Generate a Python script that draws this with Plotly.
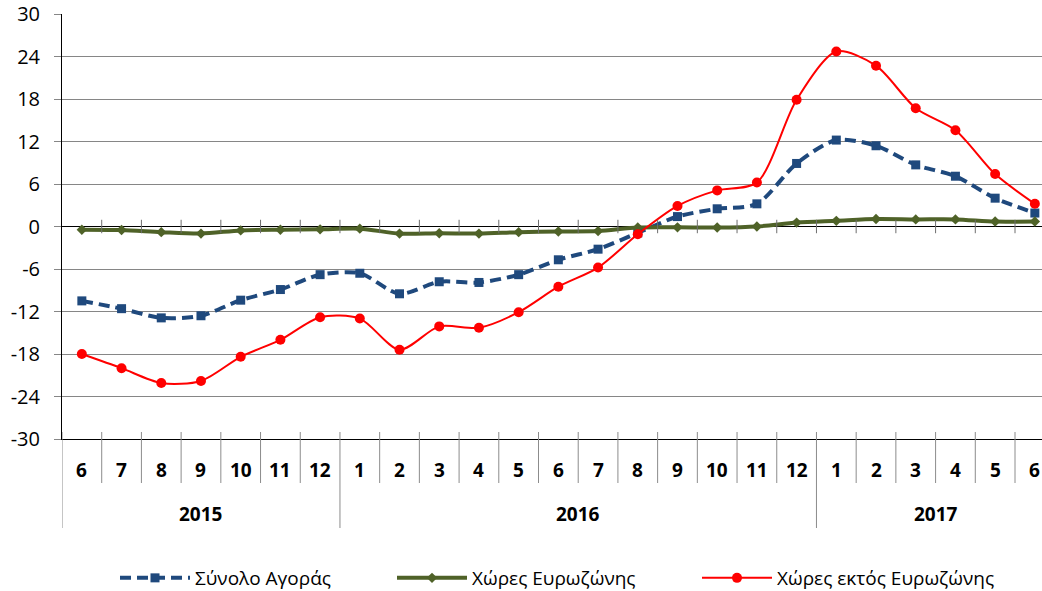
import plotly.graph_objects as go

months = ["6", "7", "8", "9", "10", "11", "12",
          "1", "2", "3", "4", "5", "6", "7", "8", "9", "10", "11", "12",
          "1", "2", "3", "4", "5", "6"]
years = ["2015", "2016", "2017"]
year_spans = [(0, 6), (7, 18), (19, 24)]
y_ticks = [-30, -24, -18, -12, -6, 0, 6, 12, 18, 24, 30]

total_market = [-10.5, -11.6, -12.9, -12.6, -10.4, -8.9, -6.8,
                -6.6, -9.5, -7.8, -7.9, -6.8, -4.7, -3.2, -0.9, 1.4,
                2.5, 3.2, 8.9, 12.2, 11.4, 8.7, 7.1, 4.0, 1.9]
eurozone = [-0.45, -0.5, -0.8, -1.0, -0.55, -0.45, -0.4,
            -0.3, -1.0, -0.95, -1.0, -0.8, -0.7, -0.65, -0.15, -0.12,
            -0.15, 0.0, 0.55, 0.8, 1.05, 1.0, 1.0, 0.7, 0.7]
non_eurozone = [-18.0, -20.0, -22.1, -21.8, -18.4, -16.0, -12.8,
                -13.0, -17.4, -14.1, -14.3, -12.1, -8.5, -5.8, -1.1, 2.9,
                5.1, 6.2, 17.9, 24.7, 22.7, 16.7, 13.6, 7.4, 3.2]

names = ["Σύνολο Αγοράς", "Χώρες Ευρωζώνης", "Χώρες εκτός Ευρωζώνης"]

FONT = "Open Sans, DejaVu Sans, sans-serif"
x = list(range(len(months)))

fig = go.Figure()
fig.add_trace(go.Scatter(
    x=x, y=total_market, name=names[0], mode="lines+markers", legend="legend",
    line=dict(color="#1F497D", width=4, dash="11px,6px", shape="spline", smoothing=0.8),
    marker=dict(symbol="square", size=9, color="#1F497D")))
fig.add_trace(go.Scatter(
    x=x, y=eurozone, name=names[1], mode="lines+markers", legend="legend2",
    line=dict(color="#4F6228", width=4, shape="spline", smoothing=0.8),
    marker=dict(symbol="diamond", size=8, color="#4F6228")))
fig.add_trace(go.Scatter(
    x=x, y=non_eurozone, name=names[2], mode="lines+markers", legend="legend3",
    line=dict(color="#FF0000", width=2, shape="spline", smoothing=0.8),
    marker=dict(symbol="circle", size=10, color="#FF0000")))

W, H = 1042, 591
plot_w = W - 62
plot_h = H - 14 - 152  # plot area height in px


def py(px_below_axis):
    return -px_below_axis / plot_h


def cx(x_pixel):
    return x_pixel / W


def cy(y_pixel):
    return 1 - y_pixel / H


shapes = []
year_bounds = {-0.5, 6.5, 18.5}
for i in range(len(months)):
    b = i - 0.5
    if b in year_bounds:
        y1 = py(89)
    else:
        y1 = py(44)
    shapes.append(dict(type="line", xref="x", yref="paper", x0=b, x1=b,
                       y0=7 / plot_h, y1=y1, line=dict(color="#8C8C8C", width=1)))
    if i > 0:
        shapes.append(dict(type="line", xref="x", yref="y", x0=b, x1=b,
                           y0=-0.95, y1=0.95, line=dict(color="#6E6E6E", width=1)))

annotations = []
for i, m in enumerate(months):
    annotations.append(dict(x=i, y=py(31), xref="x", yref="paper", text="<b>%s</b>" % m,
                            showarrow=False, xanchor="center", yanchor="middle",
                            font=dict(family=FONT, size=19, color="black")))
for yr, (a, b) in zip(years, year_spans):
    annotations.append(dict(x=(a + b) / 2, y=py(75), xref="x", yref="paper",
                            text="<b>%s</b>" % yr, showarrow=False, xanchor="center",
                            yanchor="middle", font=dict(family=FONT, size=19, color="black")))

leg_common = dict(orientation="h", xanchor="left", yanchor="middle",
                  xref="container", yref="container", y=cy(578),
                  font=dict(family=FONT, size=19, color="black"), itemwidth=70,
                  bgcolor="rgba(0,0,0,0)")

fig.update_layout(
    width=W, height=H,
    margin=dict(l=62, r=0, t=14, b=152),
    showlegend=True,
    paper_bgcolor="white", plot_bgcolor="white",
    font=dict(family=FONT, size=19, color="black"),
    xaxis=dict(range=[-0.5, 24.18], showgrid=False, zeroline=False, automargin=False,
               showticklabels=False, showline=True, linecolor="black", linewidth=1,
               ticks=""),
    yaxis=dict(range=[-30, 30], tickvals=y_ticks, ticktext=[str(v) for v in y_ticks],
               showgrid=True, automargin=False, ticklabelstandoff=10,
               gridcolor="#868686", gridwidth=1, zeroline=True, zerolinecolor="black",
               zerolinewidth=1, showline=True, linecolor="black", linewidth=1,
               ticks="outside", ticklen=7, tickcolor="#868686",
               tickfont=dict(family=FONT, size=20, color="black")),
    legend=dict(x=cx(115), **leg_common),
    legend2=dict(x=cx(392), **leg_common),
    legend3=dict(x=cx(697), **leg_common),
    shapes=shapes, annotations=annotations,
)

fig.write_html("out.html", post_script="document.body.style.margin='0px';",
               config={"displayModeBar": False})
